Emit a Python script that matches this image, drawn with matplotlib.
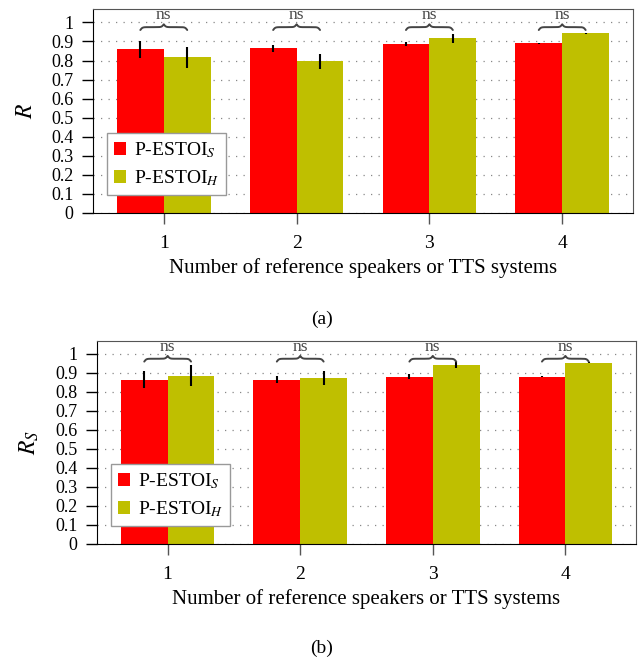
import matplotlib
matplotlib.use("Agg")
import matplotlib.pyplot as plt
import numpy as np

plt.rcParams["font.family"] = ["Liberation Serif", "DejaVu Serif"]
plt.rcParams["mathtext.fontset"] = "stix"

# Data
groups = [1, 2, 3, 4]
r_s = [0.858, 0.863, 0.886, 0.891]
r_s_err = [0.043, 0.020, 0.012, 0.003]
r_h = [0.816, 0.795, 0.916, 0.942]
r_h_err = [0.054, 0.038, 0.025, 0.003]

rs_s = [0.865, 0.865, 0.880, 0.880]
rs_s_err = [0.045, 0.020, 0.014, 0.003]
rs_h = [0.886, 0.875, 0.944, 0.954]
rs_h_err = [0.055, 0.037, 0.020, 0.003]

labels = [r"P-ESTOI$_S$", r"P-ESTOI$_H$"]
yticks = [0, 0.1, 0.2, 0.3, 0.4, 0.5, 0.6, 0.7, 0.8, 0.9, 1]
ytick_labels = ["0", "0.1", "0.2", "0.3", "0.4", "0.5", "0.6", "0.7", "0.8", "0.9", "1"]

RED = "#FF0000"
OLIVE = "#BFBF00"
width = 0.353


def brace(ax, x0, x1, y, h, color="#444444"):
    # curly brace, tips pointing down, spanning x0..x1 at height y
    n = 201
    xs = np.linspace(x0, x1, n)
    half = xs[: n // 2 + 1]
    beta = 45.0 / (x1 - x0)
    yh = 1 / (1 + np.exp(-beta * (half - half[0]))) + 1 / (1 + np.exp(-beta * (half - half[-1])))
    ys = np.concatenate((yh, yh[-2::-1]))
    ys = y + (ys - 1.0) * h
    ax.plot(xs, ys, color=color, lw=1.4, solid_capstyle="round", zorder=4)


def panel(ax, s_vals, s_err, h_vals, h_err, ylabel):
    x = np.array(groups, dtype=float)
    ax.bar(x - width / 2, s_vals, width, color=RED, label=labels[0], zorder=2)
    ax.bar(x + width / 2, h_vals, width, color=OLIVE, label=labels[1], zorder=2)
    ax.errorbar(x - width / 2, s_vals, yerr=s_err, fmt="none", ecolor="black",
                elinewidth=1.5, capsize=0, zorder=3)
    ax.errorbar(x + width / 2, h_vals, yerr=h_err, fmt="none", ecolor="black",
                elinewidth=1.5, capsize=0, zorder=3)

    for xi in x:
        brace(ax, xi - width / 2, xi + width / 2, 0.975, 0.03)
        ax.text(xi, 1.037, "ns", ha="center", va="center", fontsize=12.5,
                color="#444444", zorder=4)

    ax.set_xlim(0.467, 4.533)
    ax.set_ylim(0, 1.07)
    ax.set_xticks(groups)
    ax.set_xticklabels([str(g) for g in groups], fontsize=14)
    ax.set_yticks(yticks)
    ax.set_yticklabels(ytick_labels, fontsize=13)
    ax.tick_params(axis="y", direction="out", length=8, width=1, pad=6)
    ax.tick_params(axis="x", direction="out", length=8, width=1, pad=8, color="#555555")
    ax.yaxis.grid(True, linestyle=(0, (1, 5)), color="#888888", linewidth=0.9, zorder=0)
    ax.set_axisbelow(True)
    for side in ["top", "right"]:
        ax.spines[side].set_color("#555555")
    for side in ["left", "bottom"]:
        ax.spines[side].set_color("black")
    ax.set_ylabel(ylabel, fontsize=17, labelpad=10)
    ax.set_xlabel("Number of reference speakers or TTS systems", fontsize=15, labelpad=4)
    leg = ax.legend(loc="upper left", bbox_to_anchor=(0.026, 0.392), fontsize=14,
                    fancybox=False, edgecolor="#999999", framealpha=1,
                    handlelength=0.65, handleheight=0.65, handletextpad=0.4,
                    borderpad=0.35, labelspacing=0.45, borderaxespad=0)
    leg.get_frame().set_linewidth(1.0)


fig = plt.figure(figsize=(6.44, 6.60), dpi=100)
ax1 = fig.add_axes([0.1444, 0.6773, 0.8385, 0.309])
ax2 = fig.add_axes([0.1506, 0.1758, 0.8370, 0.308])

panel(ax1, r_s, r_s_err, r_h, r_h_err, r"$R$")
panel(ax2, rs_s, rs_s_err, rs_h, rs_h_err, r"$R_S$")

fig.text(0.5, 1 - 319 / 660, "(a)", ha="center", va="center", fontsize=14)
fig.text(0.5, 1 - 648 / 660, "(b)", ha="center", va="center", fontsize=14)

fig.savefig("out.png", dpi=100)
